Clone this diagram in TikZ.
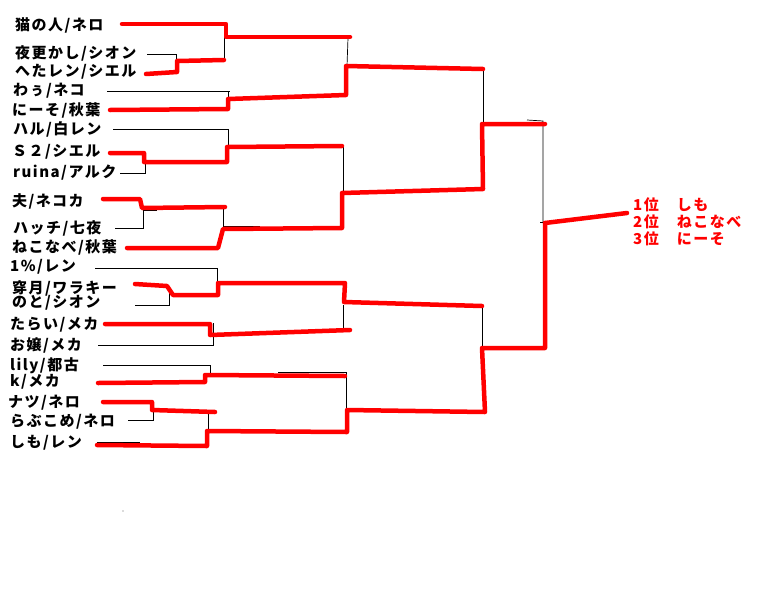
\documentclass[tikz,border=0pt]{standalone}
\usepackage{fontspec}
\newfontfamily\jpfont[LetterSpace=10]{Noto Sans CJK JP}
\begin{document}
\begin{tikzpicture}[x=1pt,y=-1pt,
    win/.style={draw=red,line width=4.5pt,line cap=round,line join=round},
    lose/.style={draw=black,line width=0.7pt},
    player/.style={anchor=west,inner sep=0pt,font=\jpfont\bfseries\fontsize{15pt}{15pt}\selectfont}]
				\useasboundingbox[fill=white] (0,0) rectangle (778,600);
				% entrants
				\node[player] (p1) at (15,25) {猫の人/ネロ};
				\node[player] (p2) at (15,53) {夜更かし/シオン};
				\node[player] (p3) at (15,72) {へたレン/シエル};
				\node[player] (p4) at (13,91) {わぅ/ネコ};
				\node[player] (p5) at (12,110) {にーそ/秋葉};
				\node[player] (p6) at (13,129) {ハル/白レン};
				\node[player] (p7) at (12,152) {Ｓ２/シエル};
				\node[player] (p8) at (13,173) {ruina/アルク};
				\node[player] (p9) at (12,201) {夫/ネコカ};
				\node[player] (p10) at (13,228) {ハッチ/七夜};
				\node[player] (p11) at (12,247) {ねこなべ/秋葉};
				\node[player] (p12) at (10,267) {1\%/レン};
				\node[player] (p13) at (12,288) {穿月/ワラキー};
				\node[player] (p14) at (12,303) {のと/シオン};
				\node[player] (p15) at (10,325) {たらい/メカ};
				\node[player] (p16) at (10,345) {お嬢/メカ};
				\node[player] (p17) at (10,366) {lily/都古};
				\node[player] (p18) at (10,382) {k/メカ};
				\node[player] (p19) at (8,403) {ナツ/ネロ};
				\node[player] (p20) at (10,422) {らぶこめ/ネロ};
				\node[player] (p21) at (10,443) {しも/レン};
				% results
				\node[player,text=red] (rank1) at (633,205) {1位　しも};
				\node[player,text=red] (rank2) at (633,222) {2位　ねこなべ};
				\node[player,text=red] (rank3) at (633,239) {3位　にーそ};
				% losing lines
				\draw[lose] (147,54)--(176,54)--(176,62);
				\draw[lose] (224,37)--(224,60);
				\draw[lose] (107,91)--(230,91);
				\draw[lose] (228,91)--(228,99);
				\draw[lose] (348,38)--(347,66);
				\draw[lose] (113,129)--(228,129)--(228,147);
				\draw[lose] (120,173)--(145,173)--(145,163);
				\draw[lose] (143,210)--(157,210);
				\draw[lose] (115,228)--(143,228)--(143,209);
				\draw[lose] (223,207)--(223,228);
				\draw[lose] (223,226)--(260,226);
				\draw[lose] (343,147)--(343,193);
				\draw[lose] (483,69)--(483,124);
				\draw[lose] (527,120)--(543,121)--(543,222);
				\draw[lose] (540,222)--(546,222);
				\draw[lose] (95,268)--(217,268)--(217,283);
				\draw[lose] (135,305)--(169,305)--(169,292);
				\draw[lose] (98,345)--(213,345)--(213,323);
				\draw[lose] (343,305)--(343,330);
				\draw[lose] (482,306)--(482,348);
				\draw[lose] (103,365)--(210,365)--(210,375);
				\draw[lose] (278,372)--(346,372)--(346,410)--(378,410);
				\draw[lose] (128,420)--(153,420)--(153,410);
				\draw[lose] (208,412)--(208,445);
				\draw[lose] (97,442)--(140,442);
				% winning lines
				\draw[win] (122,24)--(226,24)--(226,37)--(350,37);
				\draw[win] (146,74)--(177,72)--(177,61)--(224,60);
				\draw[win] (110,110)--(228,109)--(228,99)--(346,95)--(346,66)--(483,69);
				\draw[win] (110,153)--(144,153)--(144,162)--(227,162)--(227,147)--(342,146);
				\draw[win] (103,199)--(140,199)--(142,208)--(225,207);
				\draw[win] (127,248)--(218,248)--(223,229)--(342,228)--(342,193)--(483,189)--(482,124)--(545,124);
				\draw[win] (135,284)--(167,286)--(173,295)--(218,295)--(218,283)--(345,283)--(344,302)--(482,306);
				\draw[win] (105,324)--(210,324)--(210,335)--(350,330);
				\draw[win] (98,383)--(205,382)--(205,375)--(345,376);
				\draw[win] (103,402)--(152,402)--(152,410)--(215,412);
				\draw[win] (97,445)--(207,446)--(207,431)--(347,432)--(347,410)--(485,412)--(482,348)--(545,348)--(545,223);
				\draw[win] (545,223)--(627,213);
				\fill[black!60] (123,511) circle (0.6pt);
			\end{tikzpicture}
\end{document}
